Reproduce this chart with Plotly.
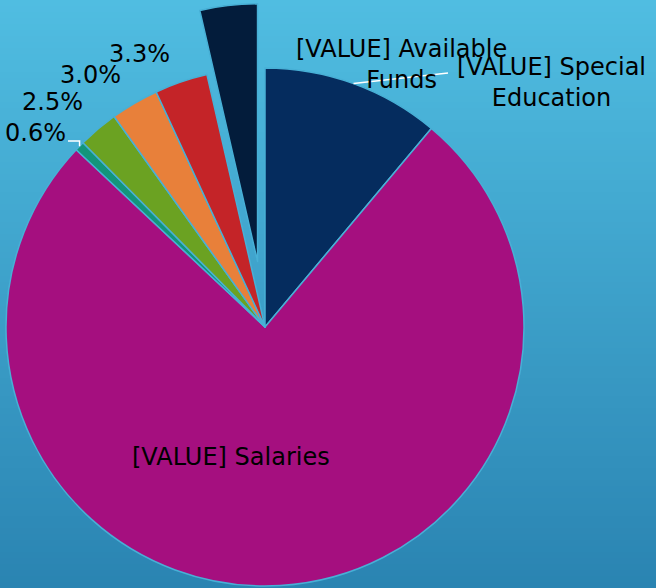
import math
import plotly.graph_objects as go

W, H = 656, 588

# ---------------- data ----------------
categories = ["Special Education", "Salaries", "Item 3", "Item 4", "Item 5", "Item 6", "Available Funds"]
values = [11.1, 75.9, 0.6, 2.5, 3.0, 3.3, 3.6]
label_text = ["[VALUE] Special<br>Education", "[VALUE] Salaries",
              "0.6%", "2.5%", "3.0%", "3.3%",
              "[VALUE] Available<br>Funds"]
pulled = [False, False, False, False, False, False, True]

# ---------------- style ----------------
colors = ["#052C5E", "#A50F7F", "#13957A", "#6BA222", "#E8803A", "#C42428", "#031C3B"]
BORDER = "rgb(72,176,214)"
CLEAR = "rgba(0,0,0,0)"
FONT = dict(family="DejaVu Sans", size=24, color="#000000")

CX, CY, R = 265, 327, 259      # pie centre / radius in pixels
PULL_PX = 66                   # explode distance of the pulled slice

# label centres (pixels)
label_pos = [(551, 82), (231, 457), (35, 133), (52, 102), (90, 75), (139, 54), (401, 64)]

total = sum(values)


def mid_angle(i):
    cum = sum(values[:i]) + values[i] / 2.0
    return 2 * math.pi * cum / total


def edge_point(i, cx=CX, cy=CY, r=R):
    a = mid_angle(i)
    return cx + r * math.sin(a), cy - r * math.cos(a)


def domain_for(cx, cy, r):
    rr = min(r, cx, W - cx, cy, H - cy)
    return dict(x=[(cx - rr) / W, (cx + rr) / W],
                y=[1 - (cy + rr) / H, 1 - (cy - rr) / H])


def px(x):
    return x / W


def py(y):
    return 1 - y / H


fig = go.Figure()

# main pie (pulled slice hidden here)
fig.add_trace(go.Pie(
    labels=categories, values=values, sort=False, direction="clockwise", rotation=0,
    marker=dict(colors=[CLEAR if p else c for c, p in zip(colors, pulled)],
                line=dict(color=[CLEAR if p else BORDER for p in pulled], width=1.5)),
    textinfo="none", hoverinfo="label+value", showlegend=False,
    domain=domain_for(CX, CY, R),
))

# exploded slice drawn as a second, shifted pie
k = pulled.index(True)
a = mid_angle(k)
pcx, pcy = CX + PULL_PX * math.sin(a), CY - PULL_PX * math.cos(a)
fig.add_trace(go.Pie(
    labels=categories, values=values, sort=False, direction="clockwise", rotation=0,
    marker=dict(colors=[c if p else CLEAR for c, p in zip(colors, pulled)],
                line=dict(color=[BORDER if p else CLEAR for p in pulled], width=1.5)),
    textinfo="none", hoverinfo="label+value", showlegend=False,
    domain=domain_for(pcx, pcy, R),
))

# background gradient
shapes = []
top = (80, 189, 225)
bot = (42, 132, 178)
N = 98
for j in range(N):
    t = j / (N - 1)
    c = tuple(round(top[m] + (bot[m] - top[m]) * t) for m in range(3))
    y0 = j * H / N
    y1 = (j + 1) * H / N + 0.8
    shapes.append(dict(type="rect", xref="paper", yref="paper", layer="below",
                       x0=0, x1=1, y0=py(min(y1, H)), y1=py(y0),
                       fillcolor="rgb(%d,%d,%d)" % c, line=dict(width=0)))

# leader lines
ex, ey = edge_point(0)
shapes.append(dict(type="line", xref="paper", yref="paper", layer="above",
                   x0=px(ex), y0=py(ey), x1=px(448), y1=py(73),
                   line=dict(color="white", width=1.5)))
ex, ey = edge_point(2)
shapes.append(dict(type="path", xref="paper", yref="paper", layer="above",
                   path="M %f %f L %f %f L %f %f" % (px(68), py(141), px(ex), py(141), px(ex), py(ey)),
                   line=dict(color="white", width=1.5)))

annotations = []
for txt, (x, y) in zip(label_text, label_pos):
    annotations.append(dict(text=txt, x=px(x), y=py(y), xref="paper", yref="paper",
                            xanchor="center", yanchor="middle", showarrow=False,
                            font=FONT, align="center"))

fig.update_layout(
    width=W, height=H, autosize=False,
    margin=dict(l=0, r=0, t=0, b=0),
    paper_bgcolor="rgb(62,162,204)", plot_bgcolor="rgba(0,0,0,0)",
    shapes=shapes, annotations=annotations, showlegend=False,
)

fig.write_html("out.html", config={"displayModeBar": False},
               post_script="document.body.style.margin='0';document.body.style.overflow='hidden';")
